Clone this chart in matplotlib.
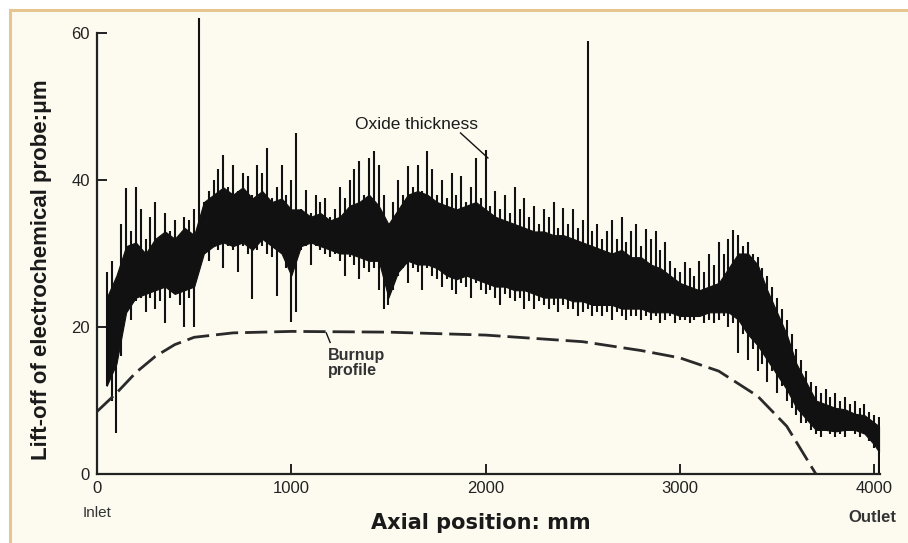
import matplotlib
matplotlib.use("Agg")
import matplotlib.pyplot as plt
import numpy as np
from matplotlib.patches import Rectangle

# dense core of the oxide trace: axial position (mm), lower / upper edge (um)
pos = [50, 100, 150, 200, 250, 300, 350, 400, 450, 500, 550, 600, 650, 700, 750,
       800, 850, 900, 950, 1000, 1050, 1100, 1150, 1200, 1250, 1300, 1350, 1400,
       1450, 1500, 1550, 1600, 1650, 1700, 1750, 1800, 1850, 1900, 1950, 2000,
       2050, 2100, 2150, 2200, 2250, 2300, 2350, 2400, 2450, 2500, 2550, 2600,
       2650, 2700, 2750, 2800, 2850, 2900, 2950, 3000, 3050, 3100, 3150, 3200,
       3250, 3300, 3350, 3400, 3450, 3500, 3550, 3600, 3650, 3700, 3750, 3800,
       3850, 3900, 3950, 4000, 4025]
core_hi = [24, 27, 31, 31.5, 30, 32, 33, 32, 33.5, 32.5, 37, 38, 39, 38, 39,
           37.5, 38.5, 37, 37.5, 36, 36, 35, 35.5, 34.5, 35, 36.5, 37, 38,
           36.5, 34, 36, 38, 38.5, 38, 37, 36.5, 36, 36.5, 37, 36,
           35, 34.5, 34, 33.5, 33, 33, 32.5, 32.5, 32, 31.5, 31, 30.5,
           30, 30.5, 29.5, 29.5, 28.5, 28, 27, 26, 25.5, 25, 25.5, 26,
           28, 30, 30, 28.5, 25, 22, 19, 15, 12.5, 10, 9.5, 9,
           8.8, 8.2, 8, 7, 6.5]
core_lo = [12, 15, 22, 24, 24.5, 25, 25.5, 24.5, 25, 25.5, 30, 31, 31.5, 31, 31.5,
           30.5, 32, 31, 30, 27, 31, 31.5, 31, 30.5, 30, 30, 29.5, 29,
           29, 24, 27.5, 29, 28.5, 28.5, 28, 27, 26.5, 27, 26.5, 26,
           25.5, 25.5, 25, 25, 24.5, 24, 24, 24, 23.5, 23.5, 23, 23,
           23, 22.5, 22.5, 22.5, 22, 22, 22, 21.5, 21.5, 21.5, 22, 22,
           22, 21, 19, 17.5, 15.5, 13.5, 11.5, 9, 7.5, 6, 6, 5.8,
           6, 6, 5.5, 4, 3]

# excursions of the probe signal, sampled every 25 mm from 50 to 4025 mm
trace_x = np.arange(50, 4026, 25)
trace_top = [27.5, 29, 26, 34, 38.9, 33, 39, 36,
             32, 35, 37, 31.5, 35.5, 33, 34.5, 32,
             35, 34.5, 36, 62, 37, 38.5, 40, 41.5,
             43.4, 39, 42, 38.5, 41, 40.5, 38, 42,
             41, 44.4, 37.5, 39, 42, 38, 40, 46.4,
             36, 38.6, 35.5, 38, 37, 37.5, 35, 36,
             39, 37.5, 40, 41.5, 42.6, 38, 43, 44,
             42, 38, 34, 37, 40, 38, 41.9, 39,
             42, 38.5, 44, 41.5, 38, 40, 37.5, 41,
             38, 40.5, 37, 39, 43, 37.5, 44.1, 36.5,
             38.5, 36, 38, 35.5, 39, 36, 37.5, 35,
             36.5, 34, 36, 35, 37, 33.5, 36.2, 34,
             36, 33.5, 34.5, 58.9, 33, 34, 32, 33,
             34.5, 32, 35, 31.5, 33, 34, 31, 33.4,
             32, 33, 30.5, 31.5, 29, 28, 27.5, 28.9,
             28, 27, 29, 27.5, 30, 28.5, 31.5, 30,
             32, 33.2, 32.5, 31, 31.5, 30, 29.5, 28,
             27, 25.5, 24, 22.5, 21, 19, 17, 15.5,
             14, 12.5, 12, 11, 11.5, 10.5, 11, 10,
             10.5, 9.5, 10, 9, 9.5, 8.5, 8, 7.7]
trace_bot = [12, 10, 5.6, 16, 22, 21, 23.5, 24,
             22, 24, 22.5, 23.5, 20.5, 24, 25, 23,
             20, 24, 20, 29, 30, 29, 31, 30.5,
             28, 31, 30.5, 27.5, 31, 30, 23.8, 30.5,
             31, 30, 29.5, 24.2, 30, 28, 20.7, 22,
             30.5, 31, 28.5, 31, 30.5, 30, 29.5, 30,
             29, 27, 29.5, 28.5, 26.5, 28, 27.5, 28,
             25, 22.5, 23, 25, 27, 28, 26, 28,
             27.5, 25, 28, 27, 26.5, 25.5, 26.5, 25,
             24.5, 26, 25.5, 24, 26, 25, 24.5, 25,
             24, 23, 24.5, 24, 23.5, 24, 22.5, 23.5,
             22.5, 23.5, 23, 22.5, 23, 22, 23, 22.5,
             22.5, 21.5, 22, 22.5, 21.5, 22, 21.5, 22,
             21, 22, 21.5, 21, 21.5, 21.5, 21, 21.5,
             21, 21.5, 20.5, 21, 21.5, 20.5, 21, 21,
             20.5, 21, 21.5, 20.5, 21, 20.5, 21, 21.5,
             20, 20.5, 16.5, 19, 15.5, 17, 14, 15,
             12.5, 14, 11, 12, 10, 9, 8, 7,
             7, 6, 5.5, 5, 6, 5.5, 5, 5.5,
             5, 6, 5.5, 5, 5.5, 4.5, 3.5, 0]

# burnup profile (dashed)
burn_x = [0, 100, 200, 300, 400, 500, 700, 1000, 1500, 2000, 2500, 2800, 3000,
          3200, 3400, 3550, 3700]
burn_y = [8.5, 11, 13.8, 16, 17.6, 18.6, 19.2, 19.4, 19.3, 18.9, 18.0, 16.8, 15.8,
          14.0, 10.6, 6.5, 0]

xticks = [0, 1000, 2000, 3000, 4000]
yticks = [0, 20, 40, 60]

W, H = 908, 543
fig = plt.figure(figsize=(W / 100, H / 100), dpi=100, facecolor="white")
# cream panel with tan frame (only top/left edges visible in the crop)
fig.patches.append(Rectangle((10 / W, -0.05), 1.1, 1 - 10 / H + 0.05,
                             transform=fig.transFigure, fc="#fdfbf0", ec="#e6c590",
                             lw=2.2, zorder=-10))

ax = fig.add_axes([97 / W, (H - 474) / H, (880 - 97) / W, 63 * 7.35 / H])
ax.set_zorder(2)
ax.set_facecolor("none")
ax.set_xlim(0, 4030)
ax.set_ylim(0, 63)

ink = "#111111"
ax.fill_between(pos, core_lo, core_hi, color=ink, lw=0.8, edgecolor=ink)
ax.vlines(trace_x, trace_bot, trace_top, color=ink, lw=1.5)

bl, = ax.plot(burn_x, burn_y, color="#2a2a2a", lw=2)
bl.set_dashes((8, 2.5))

for s in ("top", "right"):
    ax.spines[s].set_visible(False)
for s in ("left", "bottom"):
    ax.spines[s].set_linewidth(1.6)
    ax.spines[s].set_color("#222222")
ax.spines["left"].set_bounds(0, 60)
ax.set_xticks(xticks)
ax.set_yticks(yticks)
ax.tick_params(direction="in", length=7, width=1.4, colors="#222222",
               labelsize=12, pad=5)
for lab in ax.get_xticklabels() + ax.get_yticklabels():
    lab.set_family("Liberation Sans")

fig.text(42 / W, 1 - 270 / H, "Lift-off of electrochemical probe:\u03bcm", rotation=90,
         ha="center", va="center", fontsize=16, fontweight="bold",
         family="Liberation Sans", color="#1a1a1a")
fig.text(481 / W, 1 - 523 / H, "Axial position: mm", ha="center", va="center",
         fontsize=15, fontweight="bold", color="#1a1a1a")
fig.text(97 / W, 1 - 513 / H, "Inlet", ha="center", va="center", fontsize=11,
         family="Liberation Sans", color="#333333")
fig.text(872 / W, 1 - 517 / H, "Outlet", ha="center", va="center", fontsize=12,
         fontweight="bold", family="Liberation Sans", color="#333333")

ax.text(1960, 47.5, "Oxide thickness", ha="right", va="center", fontsize=12.5,
        family="Liberation Sans", color="#1a1a1a")
ax.plot([1871, 2012], [46.4, 43.0], color=ink, lw=1)
ax.text(1190, 17.2, "Burnup\nprofile", ha="left", va="top", fontsize=11.5,
        fontweight="bold", family="Liberation Sans", color="#333333", linespacing=1.0)
ax.plot([1180, 1200], [19.2, 17.9], color=ink, lw=1)

fig.savefig("out.png", dpi=100, facecolor="white")
